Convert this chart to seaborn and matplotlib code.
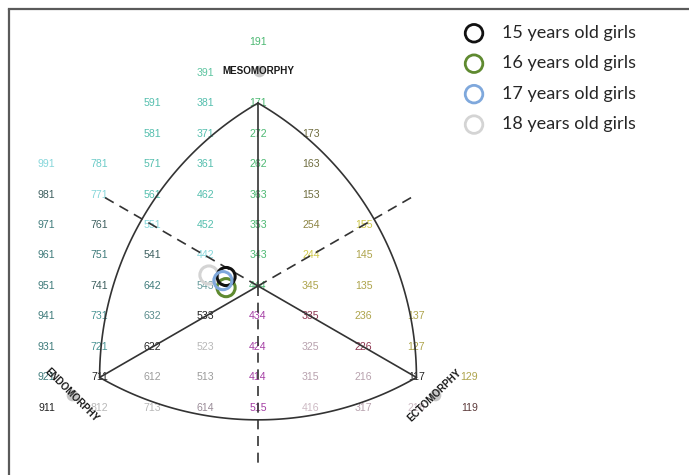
import numpy as np
import pandas as pd
import matplotlib
matplotlib.use("Agg")
import matplotlib.pyplot as plt
import seaborn as sns

# Somatotype grid labels (endo-meso-ecto) and their text colours
somatotypes = [
    "191", "391", "591", "381", "171", "581", "371", "272", "173",
    "991", "781", "571", "361", "262", "163",
    "981", "771", "561", "462", "363", "153",
    "971", "761", "551", "452", "353", "254", "155",
    "961", "751", "541", "442", "343", "244", "145",
    "951", "741", "642", "543", "444", "345", "135",
    "941", "731", "632", "533", "434", "335", "236", "137",
    "931", "721", "622", "523", "424", "325", "226", "127",
    "921", "711", "612", "513", "414", "315", "216", "117", "129",
    "911", "812", "713", "614", "515", "416", "317", "218", "119",
]

CY, TL, GR = "#86d6da", "#55bfae", "#4cb872"
DS, DT, OL = "#3d5f5f", "#3f7b7b", "#6e6c3e"
YO, YL, BK = "#aea44c", "#cfc84a", "#222222"
PU, MR, LG = "#a43ea4", "#8e3650", "#b8b8b8"
MG, MV, LM, DM = "#9c9c9c", "#b8a2ae", "#cdbac4", "#5c3a3a"

label_colors = [
    GR, "#5cc4a0", TL, TL, GR, TL, TL, GR, OL,
    CY, "#6ccbc8", TL, TL, GR, OL,
    DS, CY, TL, TL, GR, OL,
    DT, DS, CY, TL, GR, "#8c8444", YL,
    DT, DT, DS, CY, GR, YL, YO,
    DT, DS, DT, "#6a9c9c", GR, YO, YO,
    DT, "#4a9494", "#5a8c8c", BK, PU, MR, YO, YO,
    DT, "#4a9494", BK, LG, PU, MV, MR, YO,
    DT, BK, MG, MG, PU, MV, MV, BK, YO,
    BK, LG, LG, "#9a8c98", PU, LM, MV, LM, DM,
]

# Mean somatochart coordinates (X = ecto - endo, Y = 2*meso - endo - ecto)
groups = ["15 years old girls", "16 years old girls",
          "17 years old girls", "18 years old girls"]
mean_x = [-1.21, -1.21, -1.33, -1.86]
mean_y = [0.62, -0.11, 0.35, 0.72]
group_colors = ["#111111", "#5f8a30", "#7fa8dc", "#d4d4d4"]
group_z = [5, 4, 6, 3]

# Axis titles at the three poles
pole_names = ["MESOMORPHY", "ENDOMORPHY", "ECTOMORPHY"]
pole_x = [0.02, -7.05, 6.7]
pole_y = [14.1, -7.15, -7.15]
pole_rot = [0, -45, 44]


def soma_xy(code):
    endo, meso, ecto = (int(c) for c in code)
    return ecto - endo, 2 * meso - endo - ecto


sns.set_theme(style="white")
plt.rcParams["font.family"] = ["Liberation Sans", "DejaVu Sans"]

fig = plt.figure(figsize=(6.89, 4.75), dpi=100)
ax = fig.add_axes([9 / 689, -10 / 475, 691 / 689, 475.5 / 475])
ax.set_xlim(-9.432, 16.74)
ax.set_ylim(-13.06, 18.14)
ax.set_xticks([])
ax.set_yticks([])
for side in ("right", "bottom"):
    ax.spines[side].set_visible(False)
for side in ("left", "top"):
    ax.spines[side].set_color("#5a5a5a")
    ax.spines[side].set_linewidth(1.6)

# grid labels
for code, col in zip(somatotypes, label_colors):
    x, y = soma_xy(code)
    ax.text(x, y, code, color=col, fontsize=7.6, ha="center", va="center",
            zorder=1)

# Reuleaux triangle outline (circular in display space: y scaled by sqrt(3))
s3 = np.sqrt(3.0)
A = np.array(soma_xy("711"), float)   # endomorph pole
B = np.array(soma_xy("171"), float)   # mesomorph pole
C = np.array(soma_xy("117"), float)   # ectomorph pole


def arc(p, q, centre, n=120):
    cn = np.array([centre[0], centre[1] / s3])
    pn = np.array([p[0], p[1] / s3]) - cn
    qn = np.array([q[0], q[1] / s3]) - cn
    r = np.hypot(*pn)
    a0, a1 = np.arctan2(pn[1], pn[0]), np.arctan2(qn[1], qn[0])
    if a1 - a0 > np.pi:
        a1 -= 2 * np.pi
    if a0 - a1 > np.pi:
        a1 += 2 * np.pi
    t = np.linspace(a0, a1, n)
    return cn[0] + r * np.cos(t), (cn[1] + r * np.sin(t)) * s3


line_kw = dict(color="#333333", lw=1.2, zorder=2)
for p, q, c in [(A, B, C), (B, C, A), (C, A, B)]:
    xs, ys = arc(p, q, c)
    ax.plot(xs, ys, **line_kw)

O = np.array([0.0, 0.0])
for v in (A, B, C):
    ax.plot([O[0], v[0]], [O[1], v[1]], **line_kw)
dash_kw = dict(color="#333333", lw=1.2, ls=(0, (6, 4)), zorder=2)
for v in (A, B, C):
    ax.plot([O[0], -v[0]], [O[1], -v[1]], **dash_kw)

# pole titles with soft grey figure marks
for name, x, y, rot in zip(pole_names, pole_x, pole_y, pole_rot):
    ax.scatter([x], [y], s=70, color="#9a9a9a", alpha=0.55, lw=0, zorder=1.5)
    ax.text(x, y, name, fontsize=7.1, fontweight="bold", color="#1a1a1a",
            rotation=rot, ha="center", va="center", zorder=3,
            rotation_mode="anchor")

# group means
means = pd.DataFrame({"group": groups, "x": mean_x, "y": mean_y})
for (_, row), col, z in zip(means.iterrows(), group_colors, group_z):
    sns.scatterplot(x=[row["x"]], y=[row["y"]], ax=ax, color=col,
                    facecolor="none", edgecolor=col, linewidth=2.2, s=170,
                    label=row["group"], zorder=z)

leg = ax.legend(loc="upper left", bbox_to_anchor=(465 / 689, 1 - 25 / 475),
                bbox_transform=fig.transFigure, frameon=False,
                prop={"family": "Lato", "size": 13}, handlelength=1.0,
                handletextpad=1.05, labelspacing=0.8, borderpad=0,
                borderaxespad=0)
for h in leg.legend_handles:
    h.set_sizes([160])
    h.set_linewidth(2.0)

fig.savefig("out.png", dpi=100)
